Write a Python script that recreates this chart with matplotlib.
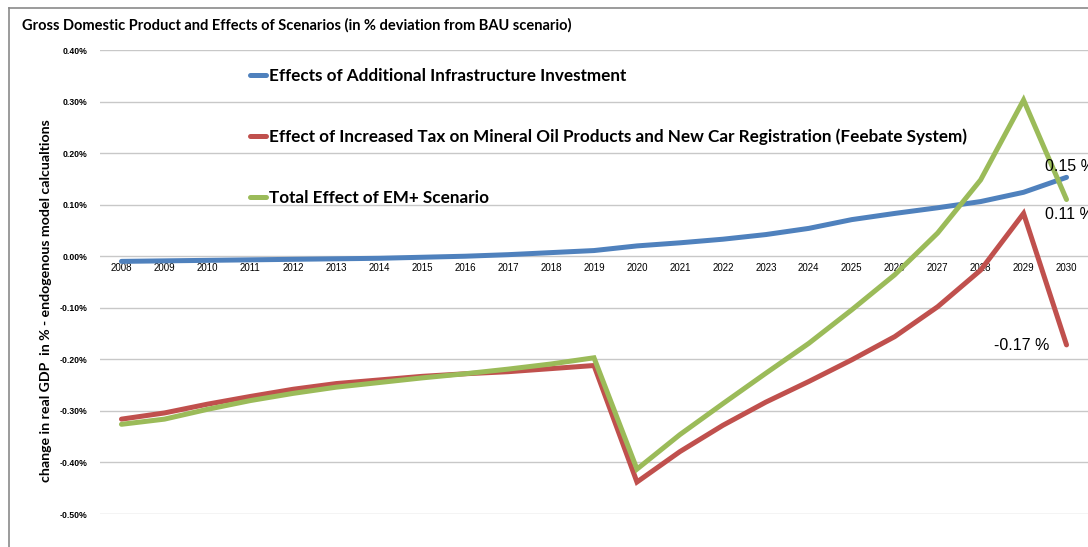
import matplotlib
matplotlib.use("Agg")
import matplotlib.pyplot as plt
from matplotlib.lines import Line2D
from matplotlib.ticker import FuncFormatter

years = list(range(2008, 2031))

infrastructure = [-0.010, -0.009, -0.008, -0.007, -0.006, -0.005, -0.004, -0.002,
                  0.000, 0.003, 0.007, 0.011, 0.020, 0.026, 0.033, 0.042,
                  0.054, 0.071, 0.083, 0.094, 0.106, 0.124, 0.153]
tax_feebate = [-0.316, -0.304, -0.287, -0.272, -0.258, -0.247, -0.240, -0.233,
               -0.228, -0.224, -0.218, -0.212, -0.438, -0.379, -0.328, -0.283,
               -0.243, -0.201, -0.156, -0.098, -0.027, 0.083, -0.172]
total_em = [-0.326, -0.316, -0.297, -0.280, -0.266, -0.254, -0.245, -0.236,
            -0.228, -0.219, -0.209, -0.197, -0.413, -0.346, -0.286, -0.227,
            -0.169, -0.104, -0.036, 0.045, 0.148, 0.303, 0.110]

labels = ["Effects of Additional Infrastructure Investment",
          "Effect of Increased Tax on Mineral Oil Products and New Car Registration (Feebate System)",
          "Total Effect of EM+ Scenario"]
colors = ["#4F81BD", "#C0504D", "#9BBB59"]
yticks = [0.4, 0.3, 0.2, 0.1, 0.0, -0.1, -0.2, -0.3, -0.4, -0.5]

lato = ["Lato", "DejaVu Sans"]
arial = ["Liberation Sans", "DejaVu Sans"]

fig = plt.figure(figsize=(10.88, 5.47), dpi=100)
W, H = 1088, 547
ax = fig.add_axes([100 / W, 1 - 514 / H, (W - 100) / W, 464 / H])

series = [infrastructure, tax_feebate, total_em]
for vals, col, lab in zip(series, colors, labels):
    ax.plot(years, vals, color=col, linewidth=3.6, label=lab,
            solid_capstyle="round", solid_joinstyle="miter", zorder=3)

ax.set_xlim(2007.5, 2030.5)
ax.set_ylim(-0.5, 0.4)
ax.spines["bottom"].set_position(("data", 0))
for s in ax.spines.values():
    s.set_visible(False)
ax.set_yticks(yticks)
ax.yaxis.set_major_formatter(FuncFormatter(lambda v, p: f"{v:.2f}%"))
ax.set_xticks(years)
ax.set_xticklabels([str(y) for y in years])
ax.tick_params(axis="both", length=0)
ax.tick_params(axis="y", pad=9, labelsize=6.2)
ax.tick_params(axis="x", pad=5, labelsize=7)
for t in ax.get_yticklabels():
    t.set_fontweight("bold")
    t.set_family(arial)
for t in ax.get_xticklabels():
    t.set_family(arial)
ax.grid(axis="y", color="#c8c8c8", linewidth=1.0, zorder=0)
ax.set_axisbelow(True)

ax.set_ylabel("change in real GDP  in % - endogenous model calcualtions",
              fontsize=10.2, fontweight="bold", family=lato)
ax.yaxis.set_label_coords(-0.0486, 0.459)

leg = fig.legend(loc="upper left", bbox_to_anchor=(250 / W, 1 - 68 / H),
                 frameon=False, handlelength=0.95, handletextpad=0.15,
                 labelspacing=2.62, borderpad=0, borderaxespad=0,
                 prop={"family": lato, "weight": "bold", "size": 12.3})
for h in leg.get_lines():
    h.set_linewidth(3.6)

# end-of-series value labels
ax.annotate(f"{infrastructure[-1]:.2f} %", (years[-1], infrastructure[-1]),
            xytext=(-22, 11), textcoords="offset pixels", fontsize=11.5,
            ha="left", va="center", family=arial)
ax.annotate(f"{total_em[-1]:.2f} %", (years[-1], total_em[-1]),
            xytext=(-22, -15), textcoords="offset pixels", fontsize=11.5,
            ha="left", va="center", family=arial)
ax.annotate(f"{tax_feebate[-1]:.2f} %", (years[-1], tax_feebate[-1]),
            xytext=(-17, -1), textcoords="offset pixels", fontsize=11.5,
            ha="right", va="center", family=arial)

fig.text(22 / W, 1 - 25 / H,
         "Gross Domestic Product and Effects of Scenarios (in % deviation from BAU scenario)",
         fontsize=10.5, fontweight="bold", family=lato, ha="left", va="center")

# chart area border
fig.add_artist(Line2D([9 / W, 1], [1 - 8 / H, 1 - 8 / H], color="#8a8a8a", linewidth=1.2))
fig.add_artist(Line2D([9 / W, 9 / W], [0, 1 - 8 / H], color="#8a8a8a", linewidth=1.2))

fig.savefig("out.png", dpi=100)
